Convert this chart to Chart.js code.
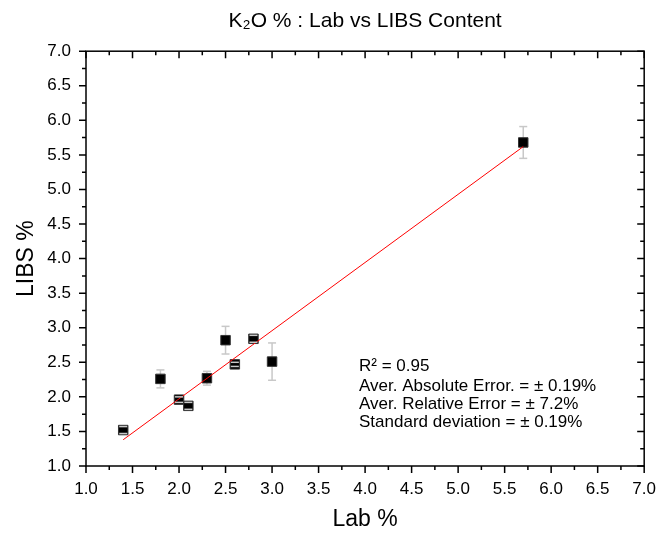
<!DOCTYPE html>
<html>
<head>
<meta charset="utf-8">
<script src="https://cdn.jsdelivr.net/npm/chart.js@4"></script>
<style>
  html, body { margin: 0; padding: 0; background: #fff; }
  #wrap { width: 669px; height: 533px; }
</style>
</head>
<body>
<div id="wrap"><canvas id="chart"></canvas></div>
<script>
// Lab vs LIBS values
const labValues = [1.4, 1.8, 2.0, 2.1, 2.3, 2.5, 2.6, 2.8, 3.0, 5.7];
const libsValues = [1.52, 2.26, 1.96, 1.87, 2.27, 2.82, 2.47, 2.84, 2.51, 5.68];
const libsErrors = [0.05, 0.13, 0.04, 0.05, 0.1, 0.2, 0.03, 0.05, 0.27, 0.23];

// linear fit line end points
const fitX = [1.4, 5.7];
const fitY = [1.38, 5.62];

// tick labels (same on both axes)
const axisTicks = [1.0, 1.5, 2.0, 2.5, 3.0, 3.5, 4.0, 4.5, 5.0, 5.5, 6.0, 6.5, 7.0];

const statLines = [
  'R\u00B2 = 0.95',
  'Aver. Absolute Error. = \u00B1 0.19%',
  'Aver. Relative Error = \u00B1 7.2%',
  'Standard deviation = \u00B1 0.19%'
];

const FONT = "'Liberation Sans', Arial, sans-serif";
Chart.defaults.font.family = FONT;
Chart.defaults.color = '#000';

const points = labValues.map((x, i) => ({ x: x, y: libsValues[i] }));
const fitPoints = fitX.map((x, i) => ({ x: x, y: fitY[i] }));

// frame, ticks, error bars and stats text
const decor = {
  id: 'decor',
  beforeDatasetsDraw(chart) {
    const { ctx, scales: { x, y } } = chart;
    ctx.save();
    ctx.strokeStyle = '#c8c8c8';
    ctx.lineWidth = 1.5;
    labValues.forEach((v, i) => {
      const px = x.getPixelForValue(v);
      ctx.beginPath();
      ctx.moveTo(px, y.getPixelForValue(libsValues[i] + libsErrors[i]));
      ctx.lineTo(px, y.getPixelForValue(libsValues[i] - libsErrors[i]));
      ctx.stroke();
    });
    ctx.restore();
  },
  afterDatasetsDraw(chart) {
    const { ctx, chartArea: a, scales: { x, y } } = chart;
    ctx.save();

    // error bar caps
    ctx.strokeStyle = '#c8c8c8';
    ctx.lineWidth = 1.5;
    labValues.forEach((v, i) => {
      const px = x.getPixelForValue(v);
      [libsValues[i] + libsErrors[i], libsValues[i] - libsErrors[i]].forEach(e => {
        const py = y.getPixelForValue(e);
        ctx.beginPath();
        ctx.moveTo(px - 4, py);
        ctx.lineTo(px + 4, py);
        ctx.stroke();
      });
    });

    // frame
    ctx.strokeStyle = '#000';
    ctx.lineWidth = 1.5;
    ctx.strokeRect(a.left, a.top, a.right - a.left, a.bottom - a.top);

    // major + minor ticks: out on bottom/left, in on top/right
    const minor = axisTicks.slice(1).map((v, i) => (v + axisTicks[i]) / 2);
    const tick = (vals, len) => {
      vals.forEach(v => {
        const px = x.getPixelForValue(v);
        const py = y.getPixelForValue(v);
        ctx.beginPath();
        ctx.moveTo(px, a.bottom); ctx.lineTo(px, a.bottom + len);
        ctx.moveTo(px, a.top); ctx.lineTo(px, a.top + len);
        ctx.moveTo(a.left - len, py); ctx.lineTo(a.left, py);
        ctx.moveTo(a.right - len, py); ctx.lineTo(a.right, py);
        ctx.stroke();
      });
    };
    tick(axisTicks, 7);
    tick(minor, 4);

    // stats text
    ctx.fillStyle = '#000';
    ctx.font = '17px ' + FONT;
    ctx.textBaseline = 'middle';
    ctx.textAlign = 'left';
    const offs = [315, 335, 353, 371];
    statLines.forEach((t, i) => ctx.fillText(t, a.left + 273, a.top + offs[i]));

    ctx.restore();
  }
};

new Chart(document.getElementById('chart'), {
  type: 'scatter',
  data: {
    datasets: [
      {
        type: 'line',
        data: fitPoints,
        borderColor: '#ff0000',
        borderWidth: 1,
        pointRadius: 0,
        fill: false
      },
      {
        data: points,
        pointStyle: 'rect',
        pointRadius: 6.7,
        backgroundColor: '#000',
        borderColor: '#333',
        borderWidth: 1
      }
    ]
  },
  options: {
    responsive: true,
    maintainAspectRatio: false,
    animation: false,
    layout: { padding: { left: 0, right: 24, top: 0, bottom: 0 } },
    plugins: {
      legend: { display: false },
      tooltip: { enabled: false },
      title: {
        display: true,
        text: 'K\u2082O % : Lab vs LIBS Content',
        fullSize: false,
        color: '#000',
        font: { size: 21, weight: 'normal' },
        padding: { top: 9, bottom: 17 }
      }
    },
    scales: {
      x: {
        type: 'linear',
        min: 1, max: 7,
        grid: { display: false, drawTicks: false },
        border: { display: false },
        afterBuildTicks: s => { s.ticks = axisTicks.map(v => ({ value: v })); },
        afterFit: s => { s.height = 67; },
        ticks: {
          font: { size: 17 },
          padding: 13,
          maxRotation: 0,
          autoSkip: false,
          callback: v => v.toFixed(1)
        },
        title: { display: true, text: 'Lab %', font: { size: 23 }, padding: 0 }
      },
      y: {
        type: 'linear',
        min: 1, max: 7,
        grid: { display: false, drawTicks: false },
        border: { display: false },
        afterBuildTicks: s => { s.ticks = axisTicks.map(v => ({ value: v })); },
        afterFit: s => { s.width = 86; },
        ticks: {
          font: { size: 17 },
          padding: 15,
          autoSkip: false,
          callback: v => v.toFixed(1)
        },
        title: { display: true, text: 'LIBS %', font: { size: 23 }, padding: { top: 13, bottom: 0 } }
      }
    }
  },
  plugins: [decor]
});
</script>
</body>
</html>
